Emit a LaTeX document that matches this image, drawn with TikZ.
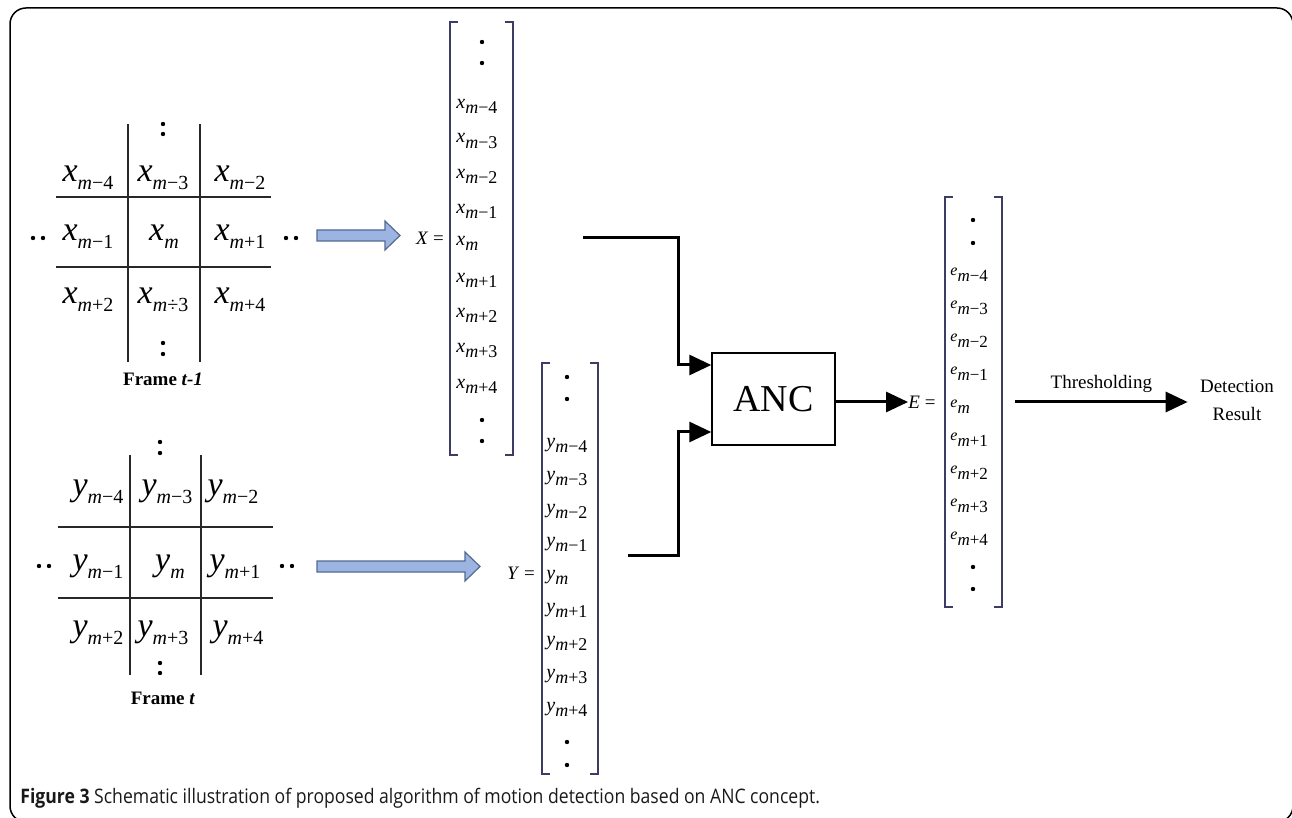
\documentclass[tikz,border=0pt]{standalone}
\usepackage{fontspec}
\setmainfont{Liberation Serif}
\newfontfamily\capfont{Open Sans}
\usetikzlibrary{arrows.meta,calc}
\definecolor{brk}{RGB}{60,60,100}
\definecolor{hollowfill}{RGB}{155,180,225}
\definecolor{hollowline}{RGB}{85,105,145}
\definecolor{gridc}{RGB}{40,40,40}
\newcommand{\gsub}[3]{{\fontsize{17}{17}\selectfont\itshape #1}\raisebox{-4pt}{\fontsize{10}{10}\selectfont{\itshape #2}#3}}
\newcommand{\vsub}[3]{{\fontsize{10}{10}\selectfont\itshape #1}\raisebox{-2.5pt}{\fontsize{9}{9}\selectfont{\itshape #2}#3}}
\newcommand{\esub}[3]{{\fontsize{8}{8}\selectfont\itshape #1}\raisebox{-3pt}{\fontsize{8.5}{8.5}\selectfont{\itshape #2}#3}}
\begin{document}
\begin{tikzpicture}[x=0.5pt,y=-0.5pt,
  gline/.style={draw=gridc,line width=0.7pt},
  gcell/.style={inner sep=0pt},
  ventry/.style={inner sep=0pt,anchor=west},
  brack/.style={draw=brk,line width=0.6pt},
  conn/.style={draw=black,line width=1.5pt,-{Triangle[length=11pt,width=10pt]}},
  hollow/.style={draw=hollowline,fill=hollowfill,line width=0.6pt,line join=miter},
  flabel/.style={font=\fontsize{9.5}{11}\selectfont\bfseries},
  eqlabel/.style={font=\fontsize{9.5}{10}\selectfont,inner sep=0pt}]
\useasboundingbox (0,0) rectangle (1292,818);
\begin{scope}
\clip (0,0) rectangle (1292,818);
\draw[line width=0.75pt,rounded corners=8] (10,8) rectangle (1293,822);
\end{scope}

% ---------- Frame t-1 grid ----------
\draw[gline] (128,124) -- (128,362);
\draw[gline] (200,124) -- (200,362);
\draw[gline] (56,197) -- (271,197);
\draw[gline] (56,267) -- (271,267);
\foreach \p in {(163,124),(163,134),(163,343),(163,354),(33,238),(43,238),(286,238),(296,238)}
  \fill \p circle (2.2);
\node[gcell] (xa1) at (88,178) {\gsub{x}{m}{−4}};
\node[gcell] (xa2) at (163,178) {\gsub{x}{m}{−3}};
\node[gcell] (xa3) at (240,178) {\gsub{x}{m}{−2}};
\node[gcell] (xb1) at (88,237) {\gsub{x}{m}{−1}};
\node[gcell] (xb2) at (164,237) {\gsub{x}{m}{}};
\node[gcell] (xb3) at (240,237) {\gsub{x}{m}{+1}};
\node[gcell] (xc1) at (88,300) {\gsub{x}{m}{+2}};
\node[gcell] (xc2) at (163,300) {\gsub{x}{m}{÷3}};
\node[gcell] (xc3) at (240,300) {\gsub{x}{m}{+4}};
\node[flabel] (f1) at (163,379) {Frame \textit{t-1}};

% ---------- Frame t grid ----------
\draw[gline] (130,455) -- (130,675);
\draw[gline] (201,455) -- (201,675);
\draw[gline] (58,527) -- (273,527);
\draw[gline] (58,598) -- (273,598);
\foreach \p in {(160,442),(160,453),(160,663),(160,673),(39,566),(49,566),(282,566),(292,566)}
  \fill \p circle (2.2);
\node[gcell] (ya1) at (98,492) {\gsub{y}{m}{−4}};
\node[gcell] (ya2) at (167,492) {\gsub{y}{m}{−3}};
\node[gcell] (ya3) at (233,492) {\gsub{y}{m}{−2}};
\node[gcell] (yb1) at (98,567) {\gsub{y}{m}{−1}};
\node[gcell] (yb2) at (170,567) {\gsub{y}{m}{}};
\node[gcell] (yb3) at (235,567) {\gsub{y}{m}{+1}};
\node[gcell] (yc1) at (98,633) {\gsub{y}{m}{+2}};
\node[gcell] (yc2) at (163,633) {\gsub{y}{m}{+3}};
\node[gcell] (yc3) at (238,633) {\gsub{y}{m}{+4}};
\node[flabel] (f2) at (163,698) {Frame \textit{t}};

% ---------- hollow arrows ----------
\draw[hollow] (317,230) -- (385,230) -- (385,221) -- (400,235.5) -- (385,250) -- (385,241) -- (317,241) -- cycle;
\draw[hollow] (317,561) -- (465,561) -- (465,552) -- (480,566.5) -- (465,581) -- (465,572) -- (317,572) -- cycle;

% ---------- X vector ----------
\node[eqlabel] (Xl) at (430,238) {\textit{X} =};
\draw[brack] (458,22) -- (450,22) -- (450,455) -- (458,455);
\draw[brack] (505,22) -- (513,22) -- (513,455) -- (505,455);
\foreach \p in {(482,42),(482,63),(482,420),(482,441)} \fill \p circle (2.2);
\foreach \s/\yy [count=\i] in {−4/106,−3/141,−2/176,−1/211} \node[ventry] (xv\i) at (456,\yy) {\vsub{x}{m}{\s}};
\node[ventry] (xv5) at (456,243) {\vsub{x}{m}{}};
\foreach \s/\yy [count=\i from 6] in {+1/280,+2/315,+3/350,+4/386} \node[ventry] (xv\i) at (456,\yy) {\vsub{x}{m}{\s}};

% ---------- Y vector ----------
\node[eqlabel] (Yl) at (521,573) {\textit{Y} =};
\draw[brack] (550,363) -- (542,363) -- (542,774) -- (550,774);
\draw[brack] (590,363) -- (598,363) -- (598,774) -- (590,774);
\foreach \p in {(567,377),(567,399),(567,742),(567,765)} \fill \p circle (2.2);
\foreach \s/\yy [count=\i] in {−4/445,−3/478,−2/511,−1/544,/577,+1/610,+2/643,+3/676,+4/709} \node[ventry] (yv\i) at (546,\yy) {\vsub{y}{m}{\s}};

% ---------- ANC ----------
\node[draw,line width=0.7pt,minimum width=61.5pt,minimum height=46pt,inner sep=0pt,font=\fontsize{19}{19}\selectfont] (anc) at (773.5,399) {ANC};
\coordinate (xout) at (583,238);
\coordinate (xin) at (678,365);
\coordinate (yout) at (628,555);
\coordinate (yin) at (678,432);
\draw[conn] (xout) -| (xin) -- (anc.west |- xin);
\draw[conn] (yout) -| (yin) -- (anc.west |- yin);

% ---------- E vector ----------
\node[eqlabel] (El) at (922,402) {\textit{E} =};
\draw[conn] (anc.east |- El) -- (El.west);
\draw[brack] (953,197) -- (945,197) -- (945,607) -- (953,607);
\draw[brack] (994,197) -- (1002,197) -- (1002,607) -- (994,607);
\foreach \p in {(973,220),(973,243),(973,567),(973,589)} \fill \p circle (2.2);
\foreach \s/\yy [count=\i] in {−4/275,−3/308,−2/341,−1/374,/407,+1/440,+2/473,+3/506,+4/539} \node[ventry] (ev\i) at (950,\yy) {\esub{e}{m}{\s}};

% ---------- Thresholding ----------
\coordinate (ths) at (1015,402);
\node[align=center,font=\fontsize{9.5}{14}\selectfont,inner xsep=6pt] (det) at (1237,400) {Detection\\Result};
\draw[conn] (ths) -- (det.west |- ths) node[midway,above=0.5pt,font=\fontsize{9.5}{10}\selectfont] (thl) {Thresholding};

% ---------- caption ----------
\node[anchor=west,inner sep=0pt,text=black!90] (cap) at (20,798) {\capfont\fontsize{10}{11}\selectfont\scalebox{0.88}[1]{\textbf{Figure 3} Schematic illustration of proposed algorithm of motion detection based on ANC concept.}};
\end{tikzpicture}
\end{document}
